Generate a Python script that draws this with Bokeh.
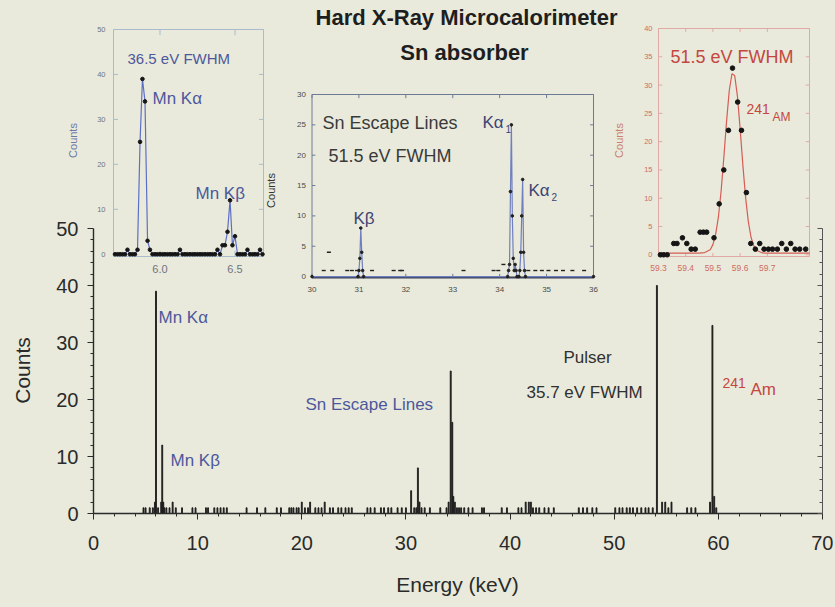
import numpy as np
from bokeh.plotting import figure
from bokeh.models import Range1d, LinearAxis, Label, FixedTicker, GlobalInlineStyleSheet
from bokeh.embed import file_html
from bokeh.resources import INLINE
from bokeh.core.properties import value

# ---------------- data ----------------
# main spectrum: bin energy (keV) and counts
MAIN_E = [
    4.8, 5.0, 5.4, 5.7, 5.9, 6.0, 6.2, 6.5, 6.6, 6.7,
    6.8, 7.0, 7.3, 7.6, 7.9, 8.5, 9.5, 9.8, 10.8, 11.0,
    11.6, 11.9, 12.2, 12.5, 12.8, 14.7, 15.7, 16.5, 17.6, 18.0,
    18.8, 19.0, 19.2, 19.5, 19.7, 20.0, 20.3, 20.6, 20.8, 21.3,
    21.6, 21.9, 22.2, 22.7, 23.0, 23.5, 23.8, 24.2, 24.5, 24.8,
    26.3, 26.6, 27.0, 27.6, 27.9, 28.3, 28.6, 29.2, 29.6, 30.0,
    30.5, 30.8, 31.0, 31.15, 31.3, 31.5, 31.8, 32.3, 33.3, 33.9,
    34.1, 34.3, 34.45, 34.55, 34.7, 34.9, 35.1, 35.3, 35.6, 36.0,
    36.4, 37.3, 37.5, 39.2, 39.7, 40.8, 41.1, 41.5, 41.8, 42.0,
    42.2, 42.5, 42.8, 43.3, 43.7, 44.2, 46.6, 47.0, 47.4, 47.9,
    48.3, 50.1, 50.5, 50.8, 51.2, 51.5, 51.8, 52.2, 52.6, 53.0,
    53.3, 53.7, 54.1, 54.6, 54.9, 55.2, 55.5, 57.0, 57.4, 57.8,
    59.2, 59.43, 59.6, 59.8]
MAIN_C = [
    1, 1, 1, 1, 2, 39, 1, 2, 12, 2,
    1, 1, 1, 2, 1, 1, 1, 1, 1, 1,
    1, 1, 1, 1, 1, 1, 1, 1, 1, 1,
    1, 1, 1, 1, 1, 2, 1, 1, 2, 1,
    1, 1, 2, 1, 1, 1, 1, 1, 1, 1,
    1, 1, 1, 1, 1, 1, 1, 1, 1, 1,
    4, 1, 1, 8, 2, 1, 1, 1, 1, 1,
    2, 25, 16, 3, 2, 1, 1, 1, 1, 1,
    1, 1, 1, 1, 1, 1, 1, 2, 2, 2,
    1, 1, 1, 1, 1, 1, 1, 1, 1, 1,
    1, 1, 1, 1, 1, 1, 1, 1, 1, 1,
    1, 1, 40, 2, 2, 1, 2, 1, 1, 1,
    2, 33, 3, 1]
MAIN_XTICKS = [0, 10, 20, 30, 40, 50, 60, 70]
MAIN_YTICKS = [0, 10, 20, 30, 40, 50]

# inset 1: Mn K lines
MN_E = [5.700, 5.717, 5.733, 5.750, 5.767, 5.783, 5.800, 5.817, 5.833, 5.850,
        5.867, 5.883, 5.900, 5.917, 5.933, 5.950, 5.967, 5.983, 6.000, 6.017,
        6.033, 6.050, 6.067, 6.083, 6.100, 6.117, 6.133, 6.150, 6.167, 6.183,
        6.200, 6.217, 6.233, 6.250, 6.267, 6.283, 6.300, 6.317, 6.333, 6.350,
        6.367, 6.383, 6.400, 6.417, 6.433, 6.450, 6.467, 6.483, 6.500, 6.517,
        6.533, 6.550, 6.567, 6.583, 6.600, 6.617, 6.633, 6.650, 6.667, 6.683]
MN_C = [0, 0, 0, 0, 0, 1, 0, 0, 0, 1,
        25, 39, 34, 3, 1, 0, 0, 0, 0, 0,
        0, 0, 0, 0, 0, 0, 1, 0, 0, 0,
        0, 0, 0, 0, 0, 0, 0, 0, 0, 0,
        0, 1, 0, 2, 2, 5, 12, 2, 4, 0,
        0, 0, 0, 1, 0, 0, 0, 0, 1, 0]
MN_XTICKS = [6.0, 6.5]
MN_YTICKS = [0, 10, 20, 30, 40, 50]

# inset 2: Sn escape lines
SN_PEAK_E = [30.00, 30.98, 31.00, 31.02, 31.04, 31.06, 31.08, 31.10,
             34.17, 34.19, 34.21, 34.23, 34.25, 34.27, 34.29, 34.31, 34.33, 34.35, 34.37,
             34.41, 34.43, 34.45, 34.47, 34.49, 34.51, 34.53, 34.55, 36.00]
SN_PEAK_C = [0, 0, 1, 3, 8, 4, 1, 0,
             0, 1, 2, 14, 25, 10, 3, 1, 2, 1, 0,
             0, 1, 4, 10, 16, 4, 1, 0, 0]
SN_NOISE_E = [30.25, 30.36, 30.43, 30.75, 30.85, 30.96, 31.28, 31.74, 31.88, 31.92, 33.23,
              33.87, 33.97, 34.08, 34.61, 34.76, 34.90, 35.04, 35.20, 35.35, 35.55, 35.80]
SN_NOISE_C = [1, 4, 1, 1, 1, 1, 1, 1, 1, 1, 1,
              1, 1, 2, 1, 1, 1, 1, 1, 1, 1, 1]
SN_XTICKS = [30, 31, 32, 33, 34, 35, 36]
SN_YTICKS = [0, 5, 10, 15, 20, 25, 30]

# inset 3: 241Am line with fit
AM_E = [59.307, 59.319, 59.332, 59.356, 59.368, 59.388, 59.404, 59.420, 59.435, 59.453,
        59.465, 59.477, 59.504, 59.523, 59.540, 59.557, 59.572, 59.591, 59.605, 59.623,
        59.639, 59.656, 59.672, 59.688, 59.704, 59.719, 59.737, 59.753, 59.770, 59.786,
        59.802, 59.819, 59.841]
AM_C = [0, 0, 0, 2, 2, 3, 2, 1, 1, 4,
        4, 4, 3, 9, 15, 22, 33, 27, 22, 11,
        2, 1, 2, 1, 1, 1, 1, 2, 1, 2,
        1, 1, 1]
AM_FIT_E = [59.30, 59.45, 59.47, 59.49, 59.50, 59.51, 59.52, 59.53, 59.54, 59.55, 59.56, 59.57,
            59.58, 59.59, 59.60, 59.61, 59.62, 59.63, 59.64, 59.65, 59.66, 59.68, 59.70, 59.855]
AM_FIT_C = [0.3, 0.3, 0.4, 0.9, 1.8, 3.6, 6.6, 11.2, 17.1, 23.5, 29.0, 32.0,
            31.7, 28.1, 22.3, 15.9, 10.2, 5.9, 3.1, 1.6, 0.8, 0.35, 0.3, 0.3]
AM_XTICKS = [59.3, 59.4, 59.5, 59.6, 59.7]
AM_YTICKS = [0, 5, 10, 15, 20, 25, 30, 35, 40]

# ---------------- style ----------------
BG = "#e9eadb"
FONT = "Liberation Sans"
AX = "#2a2a2a"
BLUE_TXT = "#4d589c"
RED_TXT = "#c4473f"
DARK_TXT = "#303030"

W, H = 833, 605
# pixel geometry of main axes (x=0 at 93, x=70 at 822; y=0 at 513, y=50 at 228)
PX0, PX1 = 93.0, 822.0
PY0, PY1 = 513.0, 228.0


def ex(px):
    return (px - PX0) * 70.0 / (PX1 - PX0)


def cy(py):
    return (PY0 - py) * 50.0 / (PY0 - PY1)


p = figure(width=W, height=H, min_border=0,
           x_range=Range1d(ex(0), ex(W)), y_range=Range1d(cy(H), cy(0)),
           output_backend="svg", toolbar_location=None,
           background_fill_color=BG, border_fill_color=BG)
p.outline_line_color = None
p.xgrid.visible = False
p.ygrid.visible = False
p.stylesheets = [GlobalInlineStyleSheet(css="body { background: %s; }" % BG)]

xa = p.xaxis[0]
xa.ticker = FixedTicker(ticks=MAIN_XTICKS, minor_ticks=[v for v in range(2, 70, 2) if v % 10])
xa.bounds = (0, 70)
xa.fixed_location = 0
ya = p.yaxis[0]
ya.ticker = FixedTicker(ticks=MAIN_YTICKS, minor_ticks=[v for v in range(2, 50, 2) if v % 10])
ya.bounds = (0, 50)
ya.fixed_location = 0
for a in (xa, ya):
    a.axis_line_color = AX
    a.axis_line_width = 1.4
    a.major_tick_line_color = AX
    a.minor_tick_line_color = AX
    a.major_tick_out = 6
    a.major_tick_in = 0
    a.minor_tick_out = 3
    a.minor_tick_in = 0
    a.major_label_text_font = FONT
    a.major_label_text_font_size = "20px"
    a.major_label_text_color = AX
xa.major_label_standoff = 16
ya.major_label_standoff = 9

ra = LinearAxis(bounds=(0, 50), fixed_location=70,
                ticker=FixedTicker(ticks=MAIN_YTICKS, minor_ticks=[v for v in range(2, 50, 2) if v % 10]),
                major_tick_in=5, major_tick_out=0, minor_tick_in=3, minor_tick_out=0,
                major_label_text_color=None,
                axis_line_color="#555555", axis_line_width=1.0,
                major_tick_line_color="#555555", minor_tick_line_color="#555555")
p.add_layout(ra, "right")

# main spectrum
p.vbar(x=MAIN_E, top=MAIN_C, bottom=0, width=0.09, fill_color="#1c1c1c",
       line_color="#1c1c1c", line_width=0.9)


def lab(text, px, py, size, color, align="left", bold=False, angle=0.0):
    p.add_layout(Label(x=ex(px), y=cy(py), text=text, text_font=FONT,
                       text_font_size="%dpx" % size, text_color=color,
                       text_align=align, text_baseline="middle",
                       text_font_style="bold" if bold else "normal", angle=angle))


# main titles and labels
lab("Hard X-Ray Microcalorimeter", 466, 17, 22, "#1e1e1e", align="center", bold=True)
lab("Sn absorber", 464, 52, 22, "#1e1e1e", align="center", bold=True)
lab("Counts", 22, 370, 21, AX, align="center", angle=np.pi / 2)
lab("Energy (keV)", 457, 584, 21, AX, align="center")
lab("Mn K\u03b1", 158, 317, 17, BLUE_TXT)
lab("Mn K\u03b2", 170, 460, 17, BLUE_TXT)
lab("Sn Escape Lines", 305, 404, 17, BLUE_TXT)
lab("Pulser", 563, 357, 17, DARK_TXT)
lab("35.7 eV FWHM", 526, 392, 17, DARK_TXT)
lab("241", 722, 382, 14, RED_TXT)
lab("Am", 750, 389, 17, RED_TXT)


def make_inset(xsrc, ysrc, box):
    l, t, r, b = box
    return p.subplot(x_source=Range1d(*xsrc), y_source=Range1d(*ysrc),
                     x_target=Range1d(ex(l), ex(r)), y_target=Range1d(cy(b), cy(t)))


def draw_frame(xy, xsrc, ysrc, xticks, yticks, color, lw=1.0, fx=0.03, fy=0.025):
    x0, x1 = xsrc
    y0, y1 = ysrc
    xy.quad(left=[x0], right=[x1], bottom=[y0], top=[y1], fill_color=None,
            line_color=color, line_width=lw)
    dx = (x1 - x0) * fx
    dy = (y1 - y0) * fy
    n = len(yticks)
    m = len(xticks)
    xy.segment(x0=[x0] * n, y0=yticks, x1=[x0 + dx] * n, y1=yticks, line_color=color, line_width=lw)
    xy.segment(x0=[x1] * n, y0=yticks, x1=[x1 - dx] * n, y1=yticks, line_color=color, line_width=lw)
    xy.segment(x0=xticks, y0=[y0] * m, x1=xticks, y1=[y0 + dy] * m, line_color=color, line_width=lw)
    xy.segment(x0=xticks, y0=[y1] * m, x1=xticks, y1=[y1 - dy] * m, line_color=color, line_width=lw)


def tick_labels(xy, xsrc, ysrc, xticks, yticks, xlabels, ylabels, color, ysize, xsize, xoff, yoff):
    xy.text(x=[xsrc[0]] * len(yticks), y=yticks, text=ylabels, x_offset=xoff,
            text_align="right", text_baseline="middle", text_font=value(FONT),
            text_font_size="%gpx" % ysize, text_color=color)
    xy.text(x=xticks, y=[ysrc[0]] * len(xticks), text=xlabels, y_offset=yoff,
            text_align="center", text_baseline="middle", text_font=value(FONT),
            text_font_size="%gpx" % xsize, text_color=color)


# ---------- inset 1: Mn ----------
MN_XS, MN_YS, MN_BOX = (5.69, 6.69), (-0.5, 50.0), (113, 29, 263, 256)
xy1 = make_inset(MN_XS, MN_YS, MN_BOX)
draw_frame(xy1, MN_XS, MN_YS, MN_XTICKS, MN_YTICKS, "#a9bccd")
tick_labels(xy1, MN_XS, MN_YS, MN_XTICKS, MN_YTICKS, ["6.0", "6.5"],
            [str(t) for t in MN_YTICKS], "#6f7480", 7.5, 11, -8, 12)
xy1.line(x=MN_E, y=MN_C, line_color="#5c6fc6", line_width=1.2)
xy1.scatter(x=MN_E, y=MN_C, size=3.6, fill_color="#151515", line_color="#151515")
lab("36.5 eV FWHM", 127, 58, 15, BLUE_TXT)
lab("Mn K\u03b1", 152, 98, 17, BLUE_TXT)
lab("Mn K\u03b2", 195, 193, 17, BLUE_TXT)
lab("Counts", 72, 140, 11, "#6b78a8", align="center", angle=np.pi / 2)

# ---------- inset 2: Sn escape ----------
SN_XS, SN_YS, SN_BOX = (30.0, 36.0), (-0.15, 30.0), (311.5, 94, 593, 277)
xy2 = make_inset(SN_XS, SN_YS, SN_BOX)
draw_frame(xy2, SN_XS, SN_YS, SN_XTICKS, SN_YTICKS, "#6d7a96", fx=0.012, fy=0.02)
xy2.segment(x0=[SN_XS[0]], y0=[SN_YS[0]], x1=[SN_XS[1]], y1=[SN_YS[0]],
            line_color="#3a4058", line_width=2)
tick_labels(xy2, SN_XS, SN_YS, SN_XTICKS, SN_YTICKS, [str(t) for t in SN_XTICKS],
            [str(t) for t in SN_YTICKS], "#4a4a4a", 8, 8, -6, 12)
xy2.line(x=SN_PEAK_E, y=SN_PEAK_C, line_color="#6f7fbf", line_width=1.2)
xy2.scatter(x=SN_PEAK_E, y=SN_PEAK_C, size=2.6, fill_color="#202020", line_color="#202020")
xy2.scatter(x=SN_NOISE_E, y=SN_NOISE_C, marker="dash", size=4, line_color="#202020", line_width=1.4)
lab("Sn Escape Lines", 322, 122, 18, "#3a3a3a")
lab("51.5 eV FWHM", 328, 155, 18, "#3a3a3a")
lab("K\u03b2", 353, 218, 17, "#3d4474")
lab("K\u03b1", 482, 122, 17, "#3d4474")
lab("1", 505, 128, 10, "#3d4474")
lab("K\u03b1", 528, 190, 17, "#3d4474")
lab("2", 551, 196, 10, "#3d4474")
lab("Counts", 270, 190, 11, "#333333", align="center", angle=np.pi / 2)

# ---------- inset 3: 241Am ----------
AM_XS, AM_YS, AM_BOX = (59.30, 59.855), (-0.3, 40.0), (658, 28, 809, 256)
xy3 = make_inset(AM_XS, AM_YS, AM_BOX)
draw_frame(xy3, AM_XS, AM_YS, AM_XTICKS, AM_YTICKS, "#e0aaa4", fx=0.025, fy=0.015)
tick_labels(xy3, AM_XS, AM_YS, AM_XTICKS, AM_YTICKS, [str(t) for t in AM_XTICKS],
            [str(t) for t in AM_YTICKS], "#d06a64", 7.5, 8.5, -6, 11)
xy3.line(x=AM_FIT_E, y=AM_FIT_C, line_color="#d65c55", line_width=1.2)
xy3.scatter(x=AM_E, y=AM_C, size=4.6, fill_color="#151515", line_color="#151515")
lab("51.5 eV FWHM", 670, 56, 18, RED_TXT)
lab("241", 746, 108, 14, RED_TXT)
lab("AM", 772, 116, 12, RED_TXT)
lab("Counts", 618, 140, 11, "#c98070", align="center", angle=np.pi / 2)

open("out.html", "w").write(file_html(p, INLINE))
